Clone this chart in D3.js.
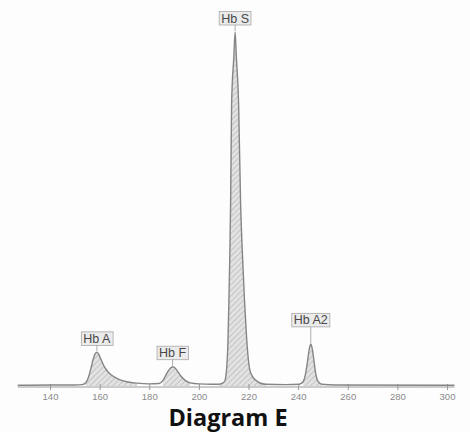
<!DOCTYPE html>
<html>
<head>
<meta charset="utf-8">
<script src="https://cdn.jsdelivr.net/npm/d3@7"></script>
<style>
  body { margin: 0; background: #fff; }
  svg { display: block; }
</style>
</head>
<body>
<div id="chart"></div>
<script>
// retention (x) and signal (% of Hb S peak)
var retention = [127, 140, 150, 153, 154.5, 155.5, 156.5, 157.5, 158.3, 158.9, 159.6, 160.5, 161.5, 162.5, 164, 166, 168, 171, 175, 180,
  184, 185.5, 187, 188.5, 189.4, 190.5, 191.8, 193, 194.5, 196.5, 200, 205,
  208, 209.5, 210.5, 211.0, 211.3, 211.7, 212.1, 212.5, 212.8, 213.2, 214.1, 214.6, 215.1, 216.0, 216.8, 217.5, 218.4, 219.2, 220.4, 221.5, 223, 224.6, 227, 235,
  240.5, 242, 243, 243.8, 244.5, 245.1, 245.7, 246.4, 247.1, 248, 249.5, 255, 303];
var signal = [0.2, 0.3, 0.3, 0.4, 1.0, 2.5, 5, 7.8, 9.2, 9.5, 9.0, 7.6, 6.0, 4.8, 3.5, 2.5, 1.8, 1.2, 0.8, 0.6,
  0.7, 1.5, 3.5, 5.0, 5.45, 5.0, 3.8, 2.6, 1.6, 0.9, 0.6, 0.5,
  0.5, 0.8, 1.5, 3.5, 6, 12, 24, 38, 52, 80, 93, 100, 93, 80, 52, 38, 24, 14, 5, 2.8, 1.6, 0.85, 0.5, 0.4,
  0.5, 1.2, 3.5, 7, 10.5, 11.9, 10.5, 7, 3.5, 1.3, 0.5, 0.3, 0.2];

var peakNames = ["Hb A", "Hb F", "Hb S", "Hb A2"];
var peakTop = [158.9, 189.4, 214.6, 245.1];
var peakStart = [154, 184.5, 208, 241.5];
var peakEnd = [175, 197, 227, 249.5];

var tickValues = [140, 160, 180, 200, 220, 240, 260, 280, 300];
var title = "Diagram E";

var width = 470, height = 432;

var x = d3.scaleLinear().domain([140, 300]).range([50, 447]);
var y = d3.scaleLinear().domain([0, 100]).range([386, 32]);

var trace = retention.map(function(r, i) { return {x: r, y: signal[i]}; });

var svg = d3.select("#chart").append("svg")
  .attr("width", width)
  .attr("height", height);

var defs = svg.append("defs");
var pat = defs.append("pattern")
  .attr("id", "hatch")
  .attr("patternUnits", "userSpaceOnUse")
  .attr("width", 4)
  .attr("height", 4)
  .attr("patternTransform", "rotate(45)");
pat.append("rect").attr("width", 4).attr("height", 4).attr("fill", "#e2e2e2");
pat.append("line")
  .attr("x1", 0).attr("y1", 0).attr("x2", 0).attr("y2", 4)
  .attr("stroke", "#b0b0b0").attr("stroke-width", 1.2);

svg.append("rect").attr("width", width).attr("height", height).attr("fill", "#fdfdfd");

var area = d3.area()
  .x(function(d) { return x(d.x); })
  .y0(y(0))
  .y1(function(d) { return y(d.y); })
  .curve(d3.curveMonotoneX);

var line = d3.line()
  .x(function(d) { return x(d.x); })
  .y(function(d) { return y(d.y); })
  .curve(d3.curveMonotoneX);

// shaded peak areas
peakNames.forEach(function(name, i) {
  var seg = trace.filter(function(d) { return d.x >= peakStart[i] && d.x <= peakEnd[i]; });
  svg.append("path")
    .datum(seg)
    .attr("d", area)
    .attr("fill", "url(#hatch)")
    .attr("stroke", "none");
});

// baseline axis
var axisY = y(0) + 1;
svg.append("line")
  .attr("x1", x(127)).attr("x2", x(303))
  .attr("y1", axisY).attr("y2", axisY)
  .attr("stroke", "#9a9a9a").attr("stroke-width", 1);

var axis = svg.append("g")
  .attr("transform", "translate(0," + axisY + ")")
  .call(d3.axisBottom(x).tickValues(tickValues).tickSize(3).tickPadding(3));
axis.select(".domain").remove();
axis.selectAll(".tick line").attr("y1", -3).attr("stroke", "#9a9a9a");
axis.selectAll(".tick text")
  .attr("fill", "#8a8a8a")
  .style("font-family", "'Liberation Sans', Arial, sans-serif")
  .style("font-size", "9.5px");

// trace
svg.append("path")
  .datum(trace)
  .attr("d", line)
  .attr("fill", "none")
  .attr("stroke", "#858585")
  .attr("stroke-width", 1.4);

// peak labels
var labelGap = [7, 7, 7, 17];
peakNames.forEach(function(name, i) {
  var px = x(peakTop[i]);
  var top = y(d3.max(trace.filter(function(d) { return d.x === peakTop[i]; }), function(d) { return d.y; }));
  var boxBottom = top - labelGap[i];
  var g = svg.append("g");
  var t = g.append("text")
    .attr("x", px)
    .attr("y", boxBottom - 2.5)
    .attr("text-anchor", "middle")
    .attr("fill", "#474747")
    .style("font-family", "'Liberation Sans', Arial, sans-serif")
    .style("font-size", "12.5px")
    .text(name);
  var bb = t.node().getBBox();
  g.insert("rect", "text")
    .attr("x", bb.x - 2)
    .attr("y", boxBottom - 13.5)
    .attr("width", bb.width + 4)
    .attr("height", 13.5)
    .attr("fill", "#ebebeb")
    .attr("stroke", "#a8a8a8")
    .attr("stroke-width", 0.8);
  g.append("line")
    .attr("x1", px).attr("x2", px)
    .attr("y1", boxBottom).attr("y2", top - 1)
    .attr("stroke", "#9a9a9a").attr("stroke-width", 0.8);
});

svg.append("text")
  .attr("x", 228)
  .attr("y", 426)
  .attr("text-anchor", "middle")
  .attr("fill", "#111")
  .style("font-family", "'Open Sans', sans-serif")
  .style("font-weight", "700")
  .style("font-size", "23.5px")
  .text(title);
</script>
</body>
</html>
